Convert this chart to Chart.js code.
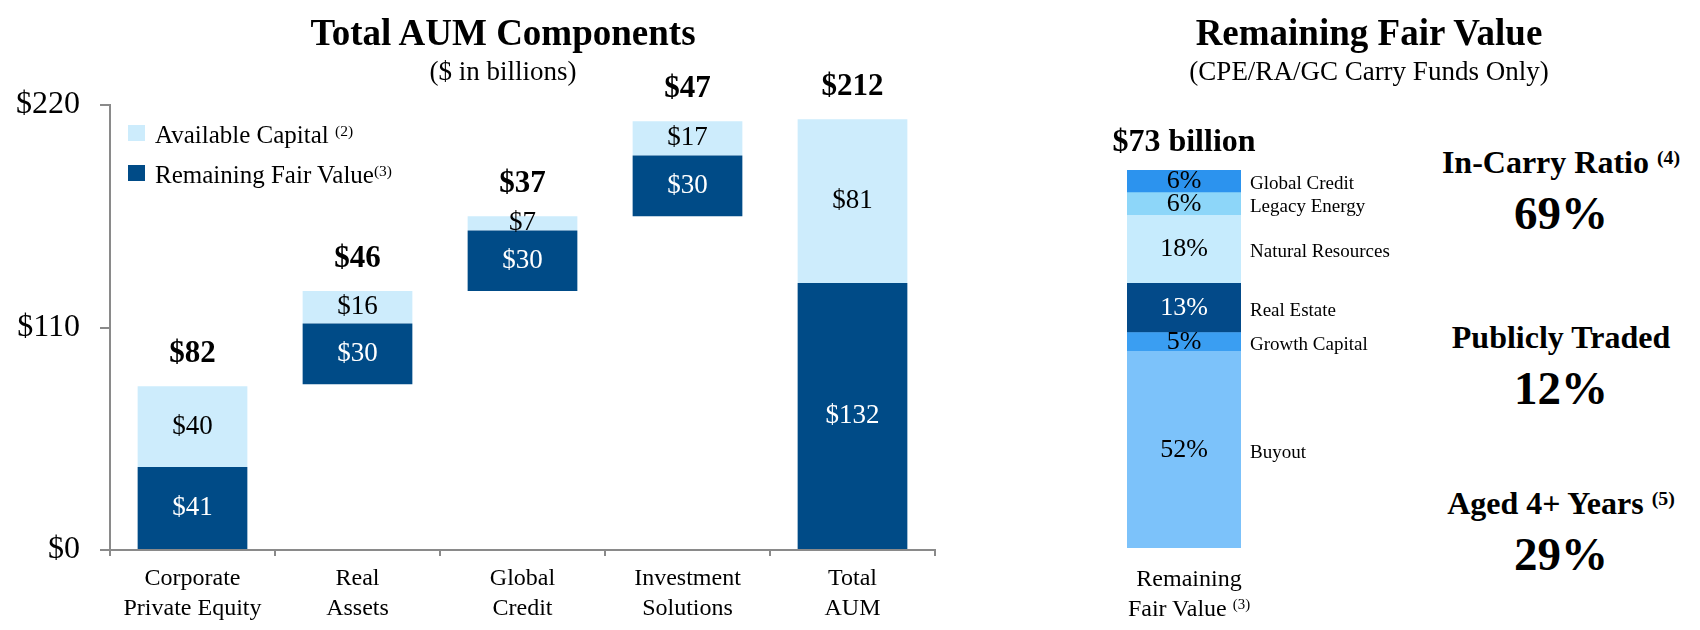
<!DOCTYPE html>
<html>
<head>
<meta charset="utf-8">
<title>Total AUM Components / Remaining Fair Value</title>
<script src="https://cdn.jsdelivr.net/npm/chart.js@4.4.0/dist/chart.umd.min.js"></script>
<style>
  html, body { margin: 0; padding: 0; background: #fff; }
  #page { position: relative; width: 1700px; height: 630px; overflow: hidden;
          font-family: "Liberation Serif", "Times New Roman", serif; color: #000; }
  canvas { position: absolute; top: 0; }
  .txt { position: absolute; line-height: 1; white-space: nowrap; transform: translate(-50%, -50%); }
  .left { transform: translate(0, -50%); }
  .b { font-weight: bold; }
  .sup { position: relative; top: -0.45em; font-size: 0.62em; }
  .swatch { position: absolute; width: 17px; height: 16px; }
</style>
</head>
<body>
<div id="page">
  <canvas id="aumChart" width="960" height="630" style="left:0"></canvas>
  <canvas id="rfvChart" width="300" height="630" style="left:1100px"></canvas>

  <div class="txt b" style="left:503px; top:32px; font-size:37px">Total AUM Components</div>
  <div class="txt" style="left:503px; top:71px; font-size:27px">($ in billions)</div>

  <div class="swatch" style="left:128px; top:125px; background:#CDECFC"></div>
  <div class="txt left" style="left:155px; top:134px; font-size:25px">Available Capital <span class="sup">(2)</span></div>
  <div class="swatch" style="left:128px; top:165px; background:#004B87"></div>
  <div class="txt left" style="left:155px; top:174px; font-size:25px">Remaining Fair Value<span class="sup">(3)</span></div>

  <div class="txt b" style="left:1369px; top:32px; font-size:37px">Remaining Fair Value</div>
  <div class="txt" style="left:1369px; top:71px; font-size:27px">(CPE/RA/GC Carry Funds Only)</div>
  <div class="txt b" id="rfvTotal" style="left:1184px; top:140px; font-size:32px"></div>

  <div class="txt" style="left:1189px; top:578px; font-size:24px">Remaining</div>
  <div class="txt" style="left:1189px; top:608px; font-size:24px">Fair Value <span class="sup">(3)</span></div>

  <div id="stats"></div>
</div>

<script>
// ---- data ----
const categories = [['Corporate', 'Private Equity'], ['Real', 'Assets'], ['Global', 'Credit'], ['Investment', 'Solutions'], ['Total', 'AUM']];
const stackBase = [0, 82, 128, 165, 0];           // invisible offset for the waterfall
const remainingFairValue = [41, 30, 30, 30, 132];
const availableCapital = [40, 16, 7, 17, 81];
const totalLabels = ['$82', '$46', '$37', '$47', '$212'];
const yTicks = [0, 110, 220];

const rfvSegments = ['Buyout', 'Growth Capital', 'Real Estate', 'Natural Resources', 'Legacy Energy', 'Global Credit'];
const rfvShares = [52, 5, 13, 18, 6, 6];
const rfvTotal = '$73 billion';

const statNames = ['In-Carry Ratio', 'Publicly Traded', 'Aged 4+ Years'];
const statNotes = ['(4)', '', '(5)'];
const statValues = ['69%', '12%', '29%'];

// ---- styles ----
const serif = '"Liberation Serif", "Times New Roman", serif';
const navy = '#004B87';
const pale = '#CDECFC';
const axisGray = '#8A8A8A';
const rfvColors = ['#7CC2FA', '#3A9EF2', '#034A89', '#C6EBFD', '#8DD6F9', '#2C93EE'];
const rfvTextColors = ['#000', '#000', '#fff', '#000', '#000', '#000'];

// value labels inside the bars + totals above
const barLabels = {
  id: 'barLabels',
  afterDatasetsDraw(chart) {
    const ctx = chart.ctx;
    ctx.save();
    ctx.textAlign = 'center';
    ctx.textBaseline = 'middle';
    ctx.font = '27px ' + serif;
    chart.getDatasetMeta(1).data.forEach((bar, i) => {
      ctx.fillStyle = '#fff';
      ctx.fillText('$' + remainingFairValue[i], bar.x, (bar.y + bar.base) / 2);
    });
    chart.getDatasetMeta(2).data.forEach((bar, i) => {
      ctx.fillStyle = '#000';
      ctx.fillText('$' + availableCapital[i], bar.x, (bar.y + bar.base) / 2);
    });
    ctx.font = 'bold 31px ' + serif;
    chart.getDatasetMeta(2).data.forEach((bar, i) => {
      ctx.fillText(totalLabels[i], bar.x, bar.y - 32);
    });
    ctx.restore();
  }
};

new Chart(document.getElementById('aumChart'), {
  type: 'bar',
  data: {
    labels: categories,
    datasets: [
      { label: 'base', data: stackBase, backgroundColor: 'rgba(0,0,0,0)' },
      { label: 'Remaining Fair Value', data: remainingFairValue, backgroundColor: navy },
      { label: 'Available Capital', data: availableCapital, backgroundColor: pale }
    ]
  },
  options: {
    responsive: false,
    animation: false,
    layout: { padding: { top: 105, right: 25, bottom: 0, left: 0 } },
    datasets: { bar: { categoryPercentage: 1, barPercentage: 0.665 } },
    plugins: { legend: { display: false }, tooltip: { enabled: false } },
    scales: {
      x: {
        stacked: true,
        grid: { drawOnChartArea: false, offset: true, tickLength: 6, color: axisGray, lineWidth: 2 },
        border: { color: axisGray, width: 2 },
        ticks: { color: '#000', font: { family: serif, size: 24, lineHeight: 1.24 }, padding: 8, maxRotation: 0, autoSkip: false },
        afterFit: s => { s.height = 80; }
      },
      y: {
        stacked: true,
        min: 0,
        max: 220,
        afterBuildTicks: s => { s.ticks = yTicks.map(v => ({ value: v })); },
        grid: { drawOnChartArea: false, tickLength: 10, color: axisGray, lineWidth: 2 },
        border: { color: axisGray, width: 2 },
        ticks: { color: '#000', font: { family: serif, size: 32 }, padding: 20, callback: v => '$' + v },
        afterFit: s => { s.width = 110; }
      }
    }
  },
  plugins: [barLabels]
});

// percentages in the segments, segment names to the right
const segmentLabels = {
  id: 'segmentLabels',
  afterDatasetsDraw(chart) {
    const ctx = chart.ctx;
    const right = chart.chartArea.right;
    ctx.save();
    chart.data.datasets.forEach((ds, i) => {
      const seg = chart.getDatasetMeta(i).data[0];
      const mid = (seg.y + seg.base) / 2;
      ctx.textBaseline = 'middle';
      ctx.textAlign = 'center';
      ctx.font = '26px ' + serif;
      ctx.fillStyle = rfvTextColors[i];
      ctx.fillText(rfvShares[i] + '%', seg.x, mid);
      ctx.textAlign = 'left';
      ctx.font = '19px ' + serif;
      ctx.fillStyle = '#000';
      ctx.fillText(rfvSegments[i], right + 9, mid + 3);
    });
    ctx.restore();
  }
};

new Chart(document.getElementById('rfvChart'), {
  type: 'bar',
  data: {
    labels: [''],
    datasets: rfvSegments.map((name, i) => ({ label: name, data: [rfvShares[i]], backgroundColor: rfvColors[i] }))
  },
  options: {
    responsive: false,
    animation: false,
    layout: { padding: { top: 170, right: 159, bottom: 82, left: 27 } },
    datasets: { bar: { categoryPercentage: 1, barPercentage: 1 } },
    plugins: { legend: { display: false }, tooltip: { enabled: false } },
    scales: {
      x: { display: false, stacked: true },
      y: { display: false, stacked: true, min: 0, max: 100 }
    }
  },
  plugins: [segmentLabels]
});

document.getElementById('rfvTotal').textContent = rfvTotal;

// headline stats on the right
const statTops = [162, 337, 503];
const stats = document.getElementById('stats');
statNames.forEach((name, i) => {
  const head = document.createElement('div');
  head.className = 'txt b';
  head.style.cssText = `left:1561px; top:${statTops[i]}px; font-size:32px`;
  head.innerHTML = name + (statNotes[i] ? ' <span class="sup">' + statNotes[i] + '</span>' : '');
  stats.appendChild(head);
  const val = document.createElement('div');
  val.className = 'txt b';
  val.style.cssText = `left:1561px; top:${statTops[i] + 51}px; font-size:47px`;
  val.textContent = statValues[i];
  stats.appendChild(val);
});
</script>
</body>
</html>
